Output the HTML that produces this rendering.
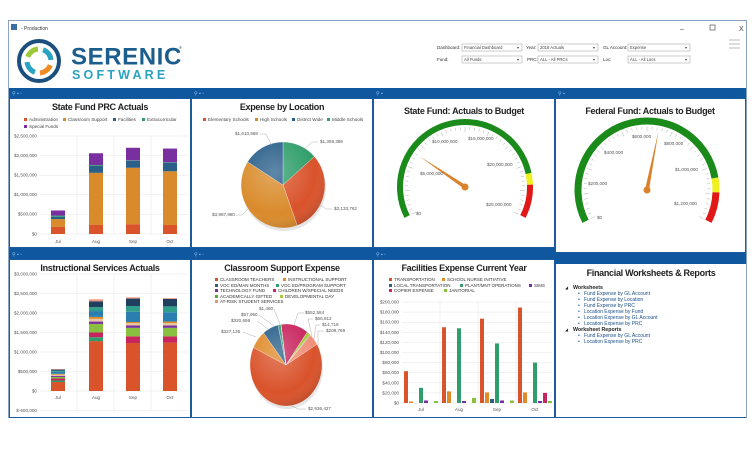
<!DOCTYPE html>
<html><head><meta charset="utf-8"><style>
html,body{margin:0;padding:0;background:#fff;}
svg{display:block;font-family:"Liberation Sans",Arial,sans-serif;}
.t{font-size:9px;font-weight:bold;fill:#222;text-anchor:middle;letter-spacing:-0.3px}
.ax{font-size:4.6px;fill:#555;}
.lg{font-size:4.6px;fill:#444;}
.fl{font-size:4.5px;fill:#333;}
.ws{font-size:5px;fill:#1a4f8a;}
</style></head><body>
<svg id="s" width="755" height="462" viewBox="0 0 755 462" xmlns="http://www.w3.org/2000/svg">
<defs>
<radialGradient id="sh" cx="0.4" cy="0.35" r="0.7"><stop offset="0" stop-color="#fff" stop-opacity="0.25"/><stop offset="0.7" stop-color="#fff" stop-opacity="0"/><stop offset="1" stop-color="#000" stop-opacity="0.15"/></radialGradient>
</defs>
<rect x="0" y="0" width="755" height="462" fill="#fff"/>
<!-- window -->
<rect x="8.5" y="20.5" width="738" height="397" fill="#fff" stroke="#8aa4bf" stroke-width="1"/>
<rect x="11" y="24" width="6" height="6" fill="#3a6ea5"/>
<text x="21" y="30" font-size="5" fill="#333">- Production</text>
<text x="680" y="31" font-size="7" fill="#444">–</text>
<rect x="710" y="25" width="5" height="5" fill="none" stroke="#555" stroke-width="0.7"/>
<text x="739" y="31" font-size="7" fill="#444">X</text>
<g stroke="#bbb" stroke-width="1"><line x1="729" y1="40" x2="740" y2="40"/><line x1="729" y1="44" x2="740" y2="44"/><line x1="729" y1="48" x2="740" y2="48"/></g>
<!-- logo -->
<g id="logo"></g>
<text x="71" y="64.5" font-size="24" font-weight="bold" fill="#1b5e8e" letter-spacing="0.6">SERENIC</text>
<text x="179" y="49" font-size="4" fill="#1b5e8e">®</text>
<text x="72" y="79" font-size="12.5" font-weight="bold" fill="#2aa3c0" letter-spacing="3.2">SOFTWARE</text>
<!-- filters -->
<g font-size="4.5" fill="#333">
<text x="437" y="49">Dashboard:</text><text x="526" y="49">Year:</text><text x="603" y="49">GL Account:</text>
<text x="437" y="61">Fund:</text><text x="527" y="61">PRC:</text><text x="603" y="61">Loc:</text>
</g>
<g fill="#fff" stroke="#aaa" stroke-width="0.6">
<rect x="462" y="44" width="60" height="7"/><rect x="538" y="44" width="60" height="7"/><rect x="628" y="44" width="62" height="7"/>
<rect x="462" y="56" width="60" height="7"/><rect x="538" y="56" width="60" height="7"/><rect x="628" y="56" width="62" height="7"/>
</g>
<g font-size="4.2" fill="#444">
<text x="464" y="49">Financial Dashboard</text><text x="540" y="49">2018 Actuals</text><text x="630" y="49">Expense</text>
<text x="464" y="61">All Funds</text><text x="540" y="61">ALL - All PRCs</text><text x="630" y="61">ALL - All Locs</text>
<text x="517" y="49">▾</text><text x="593" y="49">▾</text><text x="685" y="49">▾</text>
<text x="517" y="61">▾</text><text x="593" y="61">▾</text><text x="685" y="61">▾</text>
</g>
<!-- blue bars and panels -->
<rect x="9" y="88" width="737" height="10" fill="#0f58a0"/>
<rect x="9" y="248" width="546" height="11" fill="#0f58a0"/>
<rect x="555" y="253" width="191" height="11" fill="#0f58a0"/>
<g fill="#fff" stroke="#1b5c9e" stroke-width="1">
<rect x="9.5" y="98.5" width="181" height="149"/><rect x="191.5" y="98.5" width="181" height="149"/><rect x="373.5" y="98.5" width="181" height="149"/>
<rect x="555.5" y="98.5" width="190" height="154"/>
<rect x="9.5" y="259.5" width="181" height="158"/><rect x="191.5" y="259.5" width="181" height="158"/><rect x="373.5" y="259.5" width="181" height="158"/>
</g>
<line x1="555.5" y1="264" x2="555.5" y2="418" stroke="#1b5c9e"/>
<line x1="555" y1="417.5" x2="746" y2="417.5" stroke="#1b5c9e"/>
<g fill="#9cc0e6" font-size="5">
<text x="12" y="95">⚲ ▪ ▫</text><text x="194" y="95">⚲ ▪ ▫</text><text x="376" y="95">⚲ ▪</text><text x="558" y="95">⚲ ▪</text>
<text x="12" y="256">⚲ ▪ ▫</text><text x="194" y="256">⚲ ▪ ▫</text><text x="376" y="256">⚲ ▪ ▫</text>
</g>
<!-- titles -->
<text class="t" x="100" y="110">State Fund PRC Actuals</text>
<text class="t" x="282" y="110">Expense by Location</text>
<text class="t" x="464" y="114">State Fund: Actuals to Budget</text>
<text class="t" x="650" y="114">Federal Fund: Actuals to Budget</text>
<text class="t" x="100" y="271">Instructional Services Actuals</text>
<text class="t" x="282" y="271">Classroom Support Expense</text>
<text class="t" x="464" y="271">Facilities Expense Current Year</text>
<text class="t" x="651" y="276">Financial Worksheets &amp; Reports</text>
<!-- legend chart1 -->
<g class="lg">
<rect x="24" y="118" width="3" height="3" fill="#d9532b"/><text x="29" y="121">Administration</text>
<rect x="63" y="118" width="3" height="3" fill="#d98b2b"/><text x="68" y="121">Classroom Support</text>
<rect x="113" y="118" width="3" height="3" fill="#2a5f8a"/><text x="118" y="121">Facilities</text>
<rect x="142" y="118" width="3" height="3" fill="#2f9e6a"/><text x="147" y="121">Extracurricular</text>
<rect x="24" y="125" width="3" height="3" fill="#7a2fa0"/><text x="29" y="128">Special Funds</text>
</g>
<g class="ax" text-anchor="end">
<text x="37" y="137.5">$2,500,000</text><text x="37" y="157">$2,000,000</text><text x="37" y="176.5">$1,500,000</text><text x="37" y="196">$1,000,000</text><text x="37" y="215.5">$500,000</text><text x="37" y="235.5">$0</text>
</g>
<g class="ax" text-anchor="middle"><text x="58" y="243">Jul</text><text x="96" y="243">Aug</text><text x="133" y="243">Sep</text><text x="170" y="243">Oct</text></g>
<g id="c1"></g>
<!-- legend chart2 -->
<g class="lg">
<rect x="203" y="118" width="3" height="3" fill="#d9532b"/><text x="208" y="121">Elementary Schools</text>
<rect x="255" y="118" width="3" height="3" fill="#d98b2b"/><text x="260" y="121">High Schools</text>
<rect x="292" y="118" width="3" height="3" fill="#2a5f8a"/><text x="297" y="121">District Wide</text>
<rect x="327" y="118" width="3" height="3" fill="#2f9e6a"/><text x="332" y="121">Middle Schools</text>
</g>
<g id="p1"></g>
<g class="ax">
<text x="235" y="135">$1,610,588</text><text x="320" y="143">$1,359,386</text><text x="334" y="210">$3,133,762</text><text x="212" y="216">$3,987,980</text>
</g>
<g stroke="#999" stroke-width="0.4" fill="none">
<polyline points="260,134 266,134 272,146"/><polyline points="318,142 312,142 303,150"/><polyline points="332,209 326,209 318,203"/><polyline points="236,215 242,215 252,205"/>
</g>
<!-- gauges -->
<g id="g1"></g><g id="g2"></g>
<g class="ax">
<text x="416" y="215">$0</text><text x="420" y="175">$5,000,000</text><text x="432" y="143">$10,000,000</text><text x="468" y="140">$15,000,000</text><text x="487" y="166">$20,000,000</text><text x="486" y="206">$25,000,000</text>
<text x="597" y="219">$0</text><text x="588" y="185">$200,000</text><text x="604" y="154">$400,000</text><text x="632" y="138">$600,000</text><text x="664" y="145">$800,000</text><text x="675" y="171">$1,000,000</text><text x="674" y="205">$1,200,000</text>
</g>
<!-- chart4 -->
<g class="ax" text-anchor="end">
<text x="37" y="275.5">$3,000,000</text><text x="37" y="295">$2,500,000</text><text x="37" y="314.5">$2,000,000</text><text x="37" y="334">$1,500,000</text><text x="37" y="353.5">$1,000,000</text><text x="37" y="373">$500,000</text><text x="37" y="392.5">$0</text><text x="37" y="412">$-500,000</text>
</g>
<g class="ax" text-anchor="middle"><text x="58" y="399">Jul</text><text x="96" y="399">Aug</text><text x="133" y="399">Sep</text><text x="170" y="399">Oct</text></g>
<g id="c4"></g>
<!-- classroom legend -->
<g class="fl">
<rect x="215" y="278" width="3" height="3" fill="#d9532b"/><text x="220" y="281">CLASSROOM TEACHERS</text>
<rect x="283" y="278" width="3" height="3" fill="#e08a2a"/><text x="288" y="281">INSTRUCTIONAL SUPPORT</text>
<rect x="215" y="284" width="3" height="3" fill="#2a5f8a"/><text x="220" y="287">VOC ED/MAN MONTHS</text>
<rect x="276" y="284" width="3" height="3" fill="#2f9e6a"/><text x="281" y="287">VOC ED/PROGRAM SUPPORT</text>
<rect x="215" y="289" width="3" height="3" fill="#7a2fa0"/><text x="220" y="292">TECHNOLOGY FUND</text>
<rect x="273" y="289" width="3" height="3" fill="#c8255e"/><text x="278" y="292">CHILDREN W/SPECIAL NEEDS</text>
<rect x="215" y="295" width="3" height="3" fill="#5aaa3a"/><text x="220" y="298">ACADEMICALLY GIFTED</text>
<rect x="280" y="295" width="3" height="3" fill="#a8c83a"/><text x="285" y="298">DEVELOPMENTAL DAY</text>
<rect x="215" y="300" width="3" height="3" fill="#f0907a"/><text x="220" y="303">AT-RISK STUDENT SERVICES</text>
</g>
<g id="p2"></g>
<g class="ax">
<text x="259" y="310">$1,460</text><text x="241" y="316">$57,950</text><text x="231" y="322">$320,696</text><text x="221" y="333">$327,135</text>
<text x="305" y="314">$552,584</text><text x="315" y="320">$66,812</text><text x="322" y="326">$14,718</text><text x="326" y="332">$208,769</text><text x="308" y="410">$2,936,427</text>
</g>
<g stroke="#999" stroke-width="0.4" fill="none">
<polyline points="274,309 280,324"/><polyline points="259,315 274,326"/><polyline points="257,321 268,329"/><polyline points="243,332 256,337"/>
<polyline points="304,313 298,313 294,325"/><polyline points="313,319 308,319 312,336"/><polyline points="320,325 316,325 314,339"/><polyline points="324,331 318,331 318,345"/>
<polyline points="306,409 298,409 290,405"/>
</g>
<!-- facilities -->
<g class="fl">
<rect x="389" y="278" width="3" height="3" fill="#d9532b"/><text x="394" y="281">TRANSPORTATION</text>
<rect x="442" y="278" width="3" height="3" fill="#e08a2a"/><text x="447" y="281">SCHOOL NURSE INITIATIVE</text>
<rect x="389" y="284" width="3" height="3" fill="#2a5f8a"/><text x="394" y="287">LOCAL TRANSPORTATION</text>
<rect x="460" y="284" width="3" height="3" fill="#2f9e6a"/><text x="465" y="287">PLANT/MNT OPERATIONS</text>
<rect x="529" y="284" width="3" height="3" fill="#7a2fa0"/><text x="534" y="287">SIMS</text>
<rect x="389" y="289" width="3" height="3" fill="#c8255e"/><text x="394" y="292">COPIER EXPENSE</text>
<rect x="444" y="289" width="3" height="3" fill="#8ac040"/><text x="449" y="292">JANITORIAL</text>
</g>
<g class="ax" text-anchor="end">
<text x="399" y="303.5">$200,000</text><text x="399" y="313.6">$180,000</text><text x="399" y="323.7">$160,000</text><text x="399" y="333.8">$140,000</text><text x="399" y="343.9">$120,000</text><text x="399" y="354">$100,000</text><text x="399" y="364.1">$80,000</text><text x="399" y="374.2">$60,000</text><text x="399" y="384.3">$40,000</text><text x="399" y="394.4">$20,000</text><text x="399" y="404.5">$0</text>
</g>
<g class="ax" text-anchor="middle"><text x="421" y="411">Jul</text><text x="459" y="411">Aug</text><text x="497" y="411">Sep</text><text x="535" y="411">Oct</text></g>
<g id="c6"></g>
<!-- worksheets -->
<g font-size="5.3" fill="#222">
<text x="565" y="289" font-size="4">◢</text><text x="573" y="289" font-weight="bold">Worksheets</text>
<text x="565" y="331" font-size="4">◢</text><text x="573" y="331" font-weight="bold">Worksheet Reports</text>
</g>
<g class="ws">
<text x="578" y="295">•</text><text x="584" y="295">Fund Expense by GL Account</text>
<text x="578" y="301">•</text><text x="584" y="301">Fund Expense by Location</text>
<text x="578" y="307">•</text><text x="584" y="307">Fund Expense by PRC</text>
<text x="578" y="313">•</text><text x="584" y="313">Location Expense by Fund</text>
<text x="578" y="319">•</text><text x="584" y="319">Location Expense by GL Account</text>
<text x="578" y="325">•</text><text x="584" y="325">Location Expense by PRC</text>
<text x="578" y="337">•</text><text x="584" y="337">Fund Expense by GL Account</text>
<text x="578" y="343">•</text><text x="584" y="343">Location Expense by PRC</text>
</g>
</svg>
<script>
var NS="http://www.w3.org/2000/svg";
function el(p,t,a){var e=document.createElementNS(NS,t);for(var k in a)e.setAttribute(k,a[k]);document.getElementById(p).appendChild(e);return e;}
function line(p,x1,y1,x2,y2,c,w){el(p,"line",{x1:x1,y1:y1,x2:x2,y2:y2,stroke:c,"stroke-width":w||0.5});}
// logo
(function(){var cx=39,cy=61;
el("logo","circle",{cx:cx,cy:cy,r:20,fill:"none",stroke:"#1b4f7e","stroke-width":4});
var cols=["#f08a24","#2aa3c0","#9cc83a","#2aa3c0"];
for(var i=0;i<4;i++){var a0=(i*90+20)*Math.PI/180,a1=(i*90+85)*Math.PI/180,r=12;
el("logo","path",{d:"M"+(cx+r*Math.cos(a0))+","+(cy+r*Math.sin(a0))+" A"+r+","+r+" 0 0 1 "+(cx+r*Math.cos(a1))+","+(cy+r*Math.sin(a1)),fill:"none",stroke:cols[i],"stroke-width":5});}
})();
// stacked bar charts
function stacked(id,x0,x1,y0,scale,grid,cats,stacks,cols){
 grid.forEach(function(v){line(id,x0,y0-v*scale,x1,y0-v*scale,"#e4e4e4",0.5);});
 [77,114,151].forEach(function(x){line(id,x,y0-grid[grid.length-1]*scale,x,y0-grid[0]*scale+ (grid[0]<0?0:0),"#e4e4e4",0.5);});
 cats.forEach(function(cx,i){var acc=0;stacks[i].forEach(function(v,j){
  el(id,"rect",{x:cx-7,y:y0-(acc+v)*scale,width:14,height:v*scale,fill:cols[j%cols.length]});acc+=v;});});
}
stacked("c1",40,188,234,0.0392,[0,500,1000,1500,2000,2500],[58,96,133,170],
 [[180,200,60,30,130],[230,1330,180,20,300],[250,1440,180,10,320],[230,1370,220,10,350]],
 ["#d9532b","#d98b2b","#2a5f8a","#2f9e6a","#7a2fa0"]);
var c4c=["#d9532b","#2f9e6a","#c8255e","#8ac040","#7a2fa0","#e8c8a0","#e08a2a","#2a7fb0","#2f9e8a","#1f3f5f","#f0907a"];
stacked("c4",40,188,391,0.039,[-500,0,500,1000,1500,2000,2500,3000],[58,96,133,170],
 [[230,40,50,40,30,30,20,50,30,30,10],[1280,100,120,220,60,70,50,150,100,150,50],[1230,0,170,220,60,60,30,260,150,190,30],[1240,0,160,220,60,60,40,240,150,190,20]],
 c4c);
// facilities grouped
(function(){var id="c6";for(var v=0;v<=200;v+=20)line(id,402,403-v*0.505,552,403-v*0.505,"#e4e4e4",0.5);
[440,478,516].forEach(function(x){line(id,x,302,x,403,"#e4e4e4",0.5);});
var cols=["#d9532b","#e08a2a","#2a5f8a","#2f9e6a","#7a2fa0","#c8255e","#8ac040"];
var d=[[63,3,0,30,5,0,4],[150,23,0,148,4,0,10],[167,21,8,118,5,0,5],[189,21,0,80,4,20,4]];
[421,459,497,535].forEach(function(cx,i){d[i].forEach(function(v,j){if(v>0)el(id,"rect",{x:cx-17+j*5,y:403-v*0.505,width:4,height:v*0.505,fill:cols[j]});});});
})();
// pies
function pie(id,cx,cy,rx,ry,start,vals,cols){var tot=vals.reduce(function(a,b){return a+b;},0),a=start;
 // depth
 el(id,"ellipse",{cx:cx+1,cy:cy+3,rx:rx,ry:ry,fill:"#ccc",opacity:0.5});
 vals.forEach(function(v,i){var a2=a+v/tot*360,r0=a*Math.PI/180,r1=a2*Math.PI/180;
  var d="M"+cx+","+cy+" L"+(cx+rx*Math.sin(r0))+","+(cy-ry*Math.cos(r0))+" A"+rx+","+ry+" 0 "+((a2-a)>180?1:0)+" 1 "+(cx+rx*Math.sin(r1))+","+(cy-ry*Math.cos(r1))+" Z";
  el(id,"path",{d:d,fill:cols[i],stroke:"#fff","stroke-width":0.3});a=a2;});
 el(id,"ellipse",{cx:cx,cy:cy,rx:rx,ry:ry,fill:"url(#sh)"});
}
pie("p1",283,185,42,43,0,[1359386,3133762,3987980,1610588],["#2f9e6a","#d9532b","#d98b2b","#2a5f8a"]);
pie("p2",286,365,36,41,-8,[552584,66812,14718,208769,2936427,327135,320696,57950,1460],["#c8255e","#a8c83a","#5aaa3a","#f0907a","#d9532b","#e08a2a","#2a5f8a","#2f9e6a","#7a2fa0"]);
// gauges
function arc(cx,cy,r,a0,a1){var p0=a0*Math.PI/180,p1=a1*Math.PI/180;
 return "M"+(cx+r*Math.sin(p0))+","+(cy-r*Math.cos(p0))+" A"+r+","+r+" 0 "+((a1-a0)>180?1:0)+" 1 "+(cx+r*Math.sin(p1))+","+(cy-r*Math.cos(p1));}
function gauge(id,cx,cy,r,w,y0,y1,na,nl){
 el(id,"path",{d:arc(cx,cy,r,-117,y0),fill:"none",stroke:"#1a8a1a","stroke-width":w});
 el(id,"path",{d:arc(cx,cy,r,y0,y1),fill:"none",stroke:"#f0f020","stroke-width":w});
 el(id,"path",{d:arc(cx,cy,r,y1,117),fill:"none",stroke:"#e01818","stroke-width":w});
 for(var a=-117;a<=117.1;a+=4.68){var p=a*Math.PI/180,r0=r-w/2-2,r1=r0-((Math.round((a+117)/4.68)%5==0)?5:3);
  line(id,cx+r0*Math.sin(p),cy-r0*Math.cos(p),cx+r1*Math.sin(p),cy-r1*Math.cos(p),"#999",0.4);}
 var p=na*Math.PI/180,tx=cx+nl*Math.sin(p),ty=cy-nl*Math.cos(p),nx=Math.cos(p)*2,ny=Math.sin(p)*2;
 el(id,"polygon",{points:(cx+nx)+","+(cy+ny)+" "+tx+","+ty+" "+(cx-nx)+","+(cy-ny),fill:"#d9822b"});
 el(id,"circle",{cx:cx,cy:cy,r:3.5,fill:"#d9822b"});
}
gauge("g1",465,187,65,6,78,88,-56,55);
gauge("g2",647,190,69,7,80,92,11,60);
</script>
</body></html>
